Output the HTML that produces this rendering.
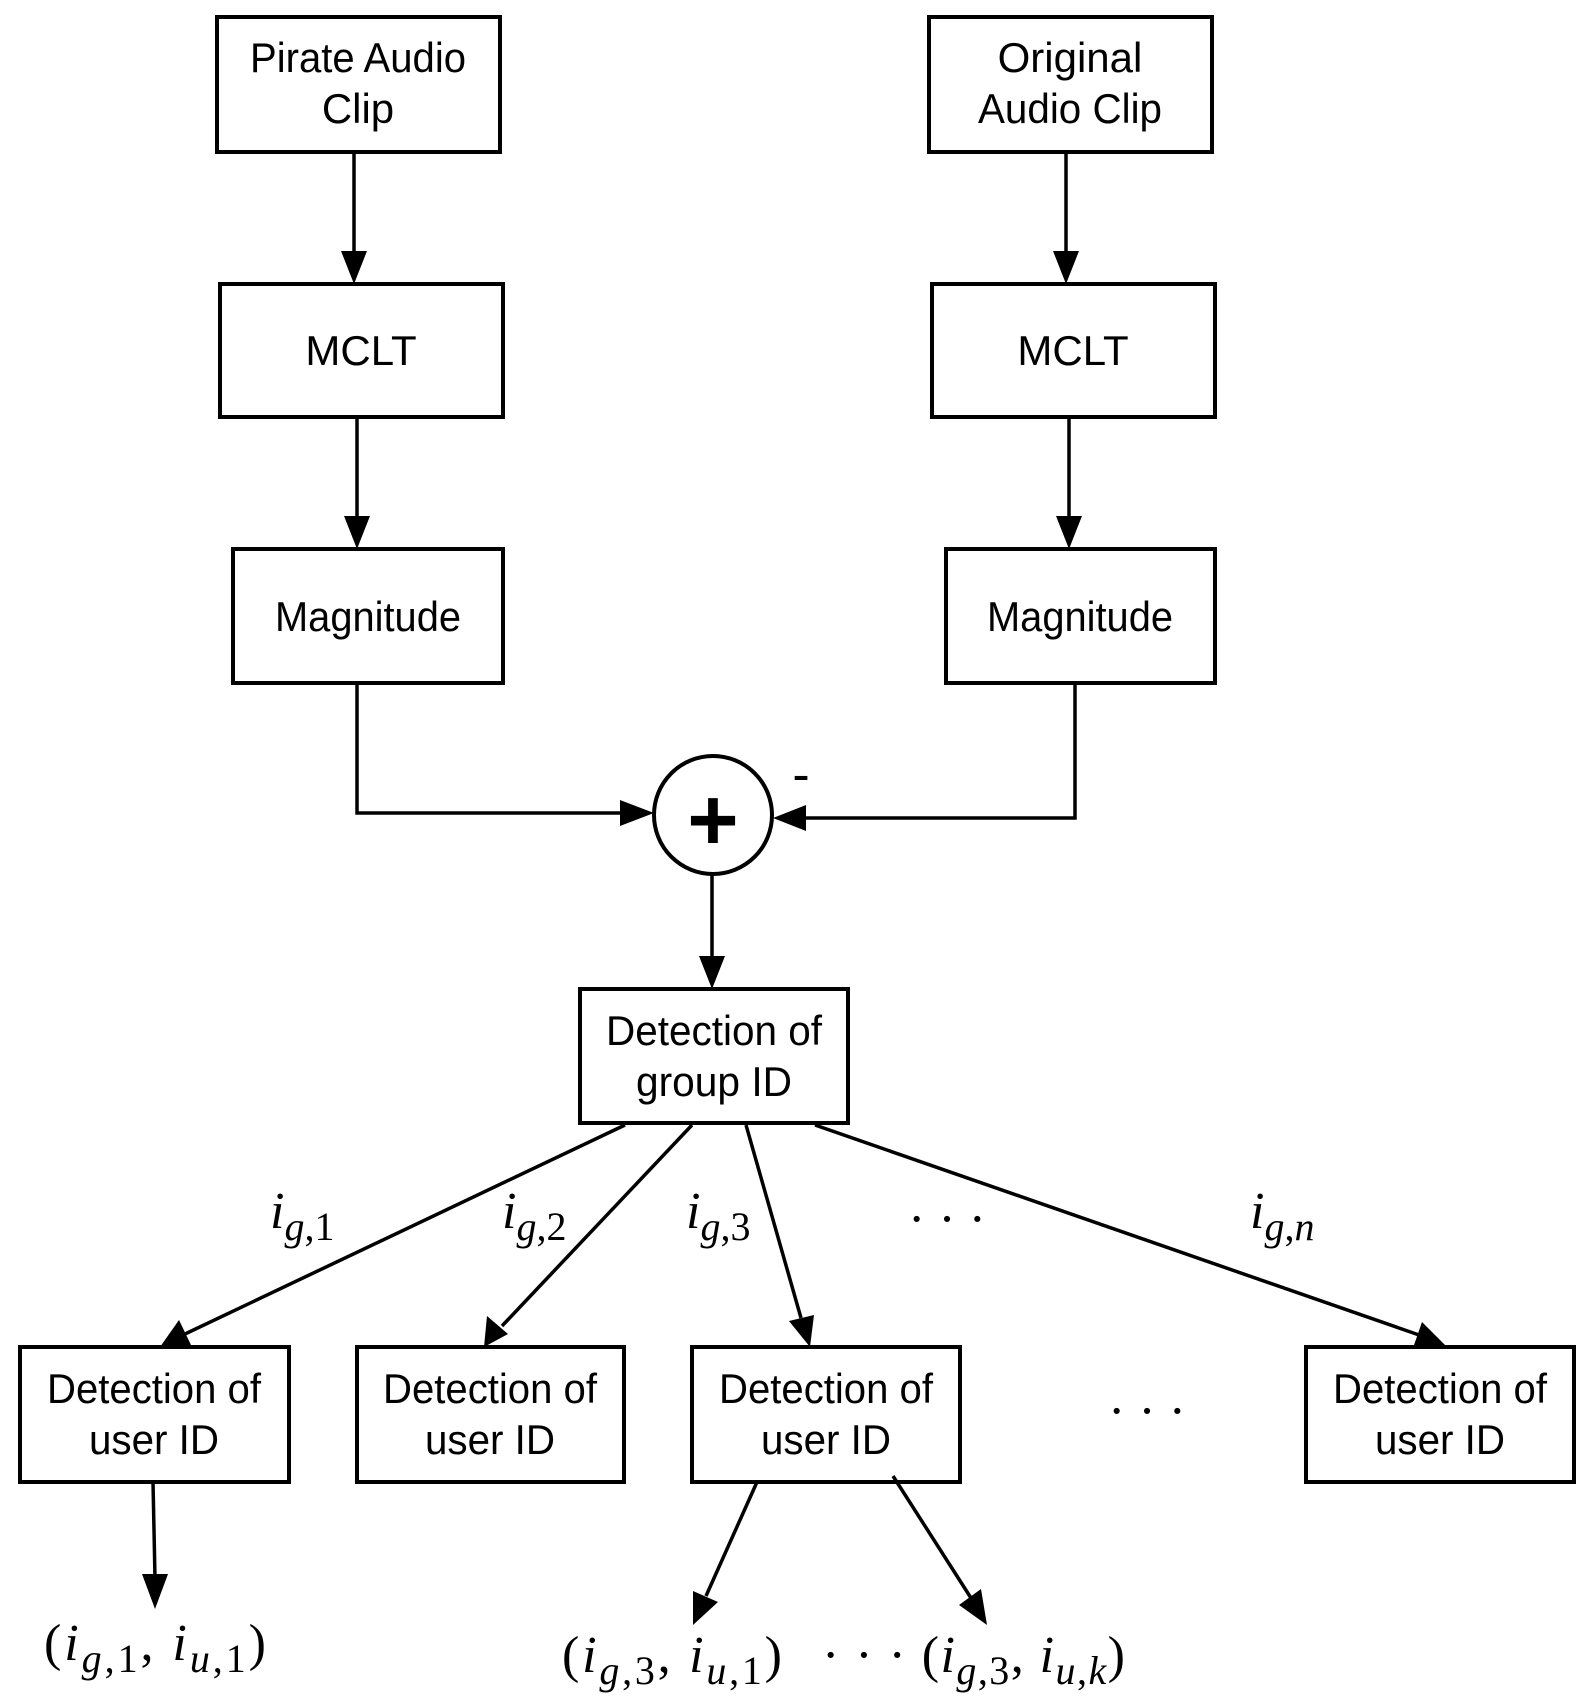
<!DOCTYPE html>
<html><head><style>html,body{margin:0;padding:0;background:#fff;}</style></head>
<body>
<svg width="1593" height="1702" xmlns="http://www.w3.org/2000/svg">
<g fill="none" stroke="#000" stroke-width="4">
<rect x="217" y="17" width="283" height="135"/>
<rect x="929" y="17" width="283" height="135"/>
<rect x="220" y="284" width="283" height="133"/>
<rect x="932" y="284" width="283" height="133"/>
<rect x="233" y="549" width="270" height="134"/>
<rect x="946" y="549" width="269" height="134"/>
<circle cx="713" cy="815" r="59"/>
<rect x="580" y="989" width="268" height="134"/>
<rect x="20" y="1347" width="269" height="135"/>
<rect x="357" y="1347" width="267" height="135"/>
<rect x="692" y="1347" width="268" height="135"/>
<rect x="1306" y="1347" width="268" height="135"/>
<g stroke-width="3.5">
<line x1="354" y1="152" x2="354" y2="255"/>
<line x1="1066" y1="152" x2="1066" y2="255"/>
<line x1="357" y1="417" x2="357" y2="520"/>
<line x1="1069" y1="417" x2="1069" y2="520"/>
<polyline points="357,683 357,813 625,813"/>
<polyline points="1075,683 1075,818 800,818"/>
<line x1="712" y1="874" x2="712" y2="960"/>
<line x1="625" y1="1125" x2="185" y2="1334"/>
<line x1="692" y1="1125" x2="502" y2="1326"/>
<line x1="746" y1="1125" x2="801" y2="1318"/>
<line x1="815" y1="1125" x2="1422" y2="1336"/>
<line x1="153" y1="1482" x2="155" y2="1578"/>
<line x1="757" y1="1482" x2="706" y2="1596"/>
<line x1="893" y1="1476" x2="971" y2="1598"/>
</g>
</g>
<g fill="#000">
<polygon points="341,251 367,251 354,284"/>
<polygon points="1053,251 1079,251 1066,284"/>
<polygon points="344,516 370,516 357,549"/>
<polygon points="1056,516 1082,516 1069,549"/>
<polygon points="620,800 620,826 654,813"/>
<polygon points="806,805 806,831 773,818"/>
<polygon points="699,956 725,956 712,989"/>
<polygon points="160,1347 179,1320 191,1345"/>
<polygon points="484,1347 487,1316 508,1334"/>
<polygon points="810,1347 789,1321 814,1315"/>
<polygon points="1446,1346 1413,1348 1422,1322"/>
<polygon points="142,1574 168,1574 155,1609"/>
<polygon points="693,1625 693,1591 718,1602"/>
<polygon points="987,1625 959,1605 981,1589"/>
</g>
<g font-family="Liberation Sans, sans-serif" font-size="42" text-anchor="middle" fill="#000">
<text x="358" y="72" textLength="216" lengthAdjust="spacingAndGlyphs">Pirate Audio</text>
<text x="358" y="123">Clip</text>
<text x="1070" y="72">Original</text>
<text x="1070" y="123" textLength="184" lengthAdjust="spacingAndGlyphs">Audio Clip</text>
<text x="361" y="365">MCLT</text>
<text x="1073" y="365">MCLT</text>
<text x="368" y="631" textLength="186" lengthAdjust="spacingAndGlyphs">Magnitude</text>
<text x="1080" y="631" textLength="186" lengthAdjust="spacingAndGlyphs">Magnitude</text>
<text x="714" y="1045" textLength="216" lengthAdjust="spacingAndGlyphs">Detection of</text>
<text x="714" y="1096" textLength="156" lengthAdjust="spacingAndGlyphs">group ID</text>
<text x="154" y="1403" textLength="214" lengthAdjust="spacingAndGlyphs">Detection of</text>
<text x="154" y="1454" textLength="130" lengthAdjust="spacingAndGlyphs">user ID</text>
<text x="490" y="1403" textLength="214" lengthAdjust="spacingAndGlyphs">Detection of</text>
<text x="490" y="1454" textLength="130" lengthAdjust="spacingAndGlyphs">user ID</text>
<text x="826" y="1403" textLength="214" lengthAdjust="spacingAndGlyphs">Detection of</text>
<text x="826" y="1454" textLength="130" lengthAdjust="spacingAndGlyphs">user ID</text>
<text x="1440" y="1403" textLength="214" lengthAdjust="spacingAndGlyphs">Detection of</text>
<text x="1440" y="1454" textLength="130" lengthAdjust="spacingAndGlyphs">user ID</text>
<text x="801" y="792" font-size="52">-</text>
<text x="713" y="850" font-size="88" font-weight="bold">+</text>
</g>
<g font-family="Liberation Serif, serif" font-size="52" fill="#000">
<text x="270" y="1228"><tspan font-style="italic">i</tspan><tspan font-size="40" dy="12"><tspan font-style="italic">g</tspan>,1</tspan></text>
<text x="502" y="1228"><tspan font-style="italic">i</tspan><tspan font-size="40" dy="12"><tspan font-style="italic">g</tspan>,2</tspan></text>
<text x="686" y="1228"><tspan font-style="italic">i</tspan><tspan font-size="40" dy="12"><tspan font-style="italic">g</tspan>,3</tspan></text>
<text x="908" y="1236">· · ·</text>
<text x="1250" y="1228"><tspan font-style="italic">i</tspan><tspan font-size="40" dy="12"><tspan font-style="italic">g</tspan>,<tspan font-style="italic">n</tspan></tspan></text>
<text x="1108" y="1428">· · ·</text>
<text x="44" y="1660" textLength="222" lengthAdjust="spacing">(<tspan font-style="italic">i</tspan><tspan font-size="40" dy="12"><tspan font-style="italic">g</tspan>,1</tspan><tspan dy="-12">, </tspan><tspan font-style="italic">i</tspan><tspan font-size="40" dy="12"><tspan font-style="italic">u</tspan>,1</tspan><tspan dy="-12">)</tspan></text>
<text x="562" y="1672" textLength="220" lengthAdjust="spacing">(<tspan font-style="italic">i</tspan><tspan font-size="40" dy="12"><tspan font-style="italic">g</tspan>,3</tspan><tspan dy="-12">, </tspan><tspan font-style="italic">i</tspan><tspan font-size="40" dy="12"><tspan font-style="italic">u</tspan>,1</tspan><tspan dy="-12">)</tspan></text>
<text x="822" y="1672" textLength="303" lengthAdjust="spacing">· · · (<tspan font-style="italic">i</tspan><tspan font-size="40" dy="12"><tspan font-style="italic">g</tspan>,3</tspan><tspan dy="-12">, </tspan><tspan font-style="italic">i</tspan><tspan font-size="40" dy="12"><tspan font-style="italic">u</tspan>,<tspan font-style="italic">k</tspan></tspan><tspan dy="-12">)</tspan></text>
</g>
</svg>
</body></html>
